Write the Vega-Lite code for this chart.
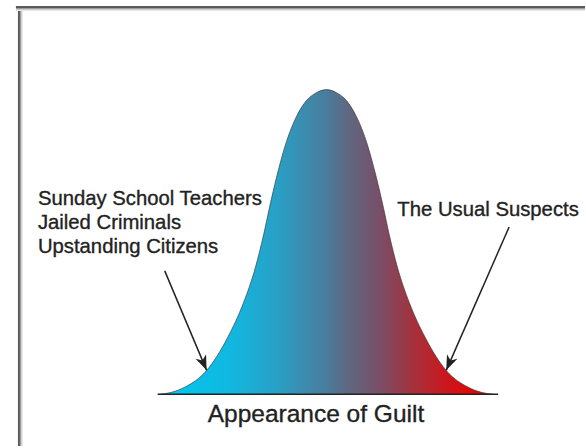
{
  "$schema": "https://vega.github.io/schema/vega-lite/v6.json",
  "width": 586,
  "height": 448,
  "autosize": {"type": "fit", "contains": "padding"},
  "padding": 0,
  "background": "white",
  "config": {"view": {"stroke": null}},
  "datasets": {
    "curve": [
      {"u": -3.036, "v": 0},
      {"u": -2.818, "v": 0.0065},
      {"u": -2.582, "v": 0.023},
      {"u": -2.182, "v": 0.078},
      {"u": -1.8, "v": 0.186},
      {"u": -1.509, "v": 0.301},
      {"u": -1.291, "v": 0.418},
      {"u": -1.145, "v": 0.523},
      {"u": -1.036, "v": 0.614},
      {"u": -0.909, "v": 0.712},
      {"u": -0.727, "v": 0.83},
      {"u": -0.545, "v": 0.912},
      {"u": -0.364, "v": 0.964},
      {"u": -0.182, "v": 0.99},
      {"u": 0, "v": 1},
      {"u": 0.182, "v": 0.99},
      {"u": 0.364, "v": 0.964},
      {"u": 0.545, "v": 0.912},
      {"u": 0.727, "v": 0.83},
      {"u": 0.909, "v": 0.712},
      {"u": 1.036, "v": 0.614},
      {"u": 1.145, "v": 0.523},
      {"u": 1.291, "v": 0.418},
      {"u": 1.509, "v": 0.301},
      {"u": 1.8, "v": 0.186},
      {"u": 2.182, "v": 0.078},
      {"u": 2.582, "v": 0.023},
      {"u": 2.818, "v": 0.0065},
      {"u": 3.036, "v": 0}
    ],
    "arrows": [
      {"u": -2.945, "v": 0.405, "u2": -2.182, "v2": 0.0784, "angle": 157.2},
      {"u": 3.327, "v": 0.549, "u2": 2.182, "v2": 0.0784, "angle": 203.5}
    ],
    "labels": [
      {"text": "Sunday School Teachers", "u": -5.255, "v": 0.621},
      {"text": "Jailed Criminals", "u": -5.255, "v": 0.542},
      {"text": "Upstanding Citizens", "u": -5.255, "v": 0.464},
      {"text": "The Usual Suspects", "u": 1.291, "v": 0.585}
    ],
    "title": [{"text": "Appearance of Guilt", "u": -0.191, "v": -0.0915}],
    "baseline": [{"u": -3.073, "u2": 3.127, "v": 0}],
    "frameLeft": [{"u": -5.6, "v": 1.2745, "v2": -0.17}],
    "frameTop": [{"u": -5.655, "u2": 4.709, "v": 1.2712}]
  },
  "encoding": {
    "x": {"field": "u", "type": "quantitative", "scale": {"domain": [-5.945, 4.709], "nice": false, "zero": false}, "axis": null},
    "y": {"field": "v", "type": "quantitative", "scale": {"domain": [-0.1699, 1.2941], "nice": false, "zero": false}, "axis": null}
  },
  "layer": [
    {
      "data": {"name": "frameLeft"},
      "mark": {"type": "rule", "color": "#e8e8e8", "strokeWidth": 1, "xOffset": 3.5},
      "encoding": {"y2": {"field": "v2"}}
    },
    {
      "data": {"name": "frameLeft"},
      "mark": {"type": "rule", "color": "#cccccc", "strokeWidth": 1, "xOffset": 2.5},
      "encoding": {"y2": {"field": "v2"}}
    },
    {
      "data": {"name": "frameLeft"},
      "mark": {"type": "rule", "color": "#9a9a9a", "strokeWidth": 1, "xOffset": 1.5},
      "encoding": {"y2": {"field": "v2"}}
    },
    {
      "data": {"name": "frameLeft"},
      "mark": {"type": "rule", "color": "#5a5a5a", "strokeWidth": 2},
      "encoding": {"y2": {"field": "v2"}}
    },
    {
      "data": {"name": "frameTop"},
      "mark": {"type": "rule", "color": "#e8e8e8", "strokeWidth": 1, "yOffset": 3.5},
      "encoding": {"x2": {"field": "u2"}}
    },
    {
      "data": {"name": "frameTop"},
      "mark": {"type": "rule", "color": "#cccccc", "strokeWidth": 1, "yOffset": 2.5},
      "encoding": {"x2": {"field": "u2"}}
    },
    {
      "data": {"name": "frameTop"},
      "mark": {"type": "rule", "color": "#9a9a9a", "strokeWidth": 1, "yOffset": 1.5},
      "encoding": {"x2": {"field": "u2"}}
    },
    {
      "data": {"name": "frameTop"},
      "mark": {"type": "rule", "color": "#5a5a5a", "strokeWidth": 2},
      "encoding": {"x2": {"field": "u2"}}
    },
    {
      "data": {"name": "curve"},
      "mark": {
        "type": "area",
        "interpolate": "monotone",
        "color": {
          "gradient": "linear",
          "x1": 0, "x2": 1, "y1": 0, "y2": 0,
          "stops": [
            {"offset": 0, "color": "#00c8f0"},
            {"offset": 0.21, "color": "#10b8e0"},
            {"offset": 0.36, "color": "#2a9ec4"},
            {"offset": 0.5, "color": "#4a7c9c"},
            {"offset": 0.57, "color": "#60667f"},
            {"offset": 0.66, "color": "#7a4e68"},
            {"offset": 0.75, "color": "#a0343f"},
            {"offset": 0.84, "color": "#c41c24"},
            {"offset": 0.93, "color": "#e00808"},
            {"offset": 1, "color": "#e80000"}
          ]
        }
      },
      "encoding": {}
    },
    {
      "data": {"name": "curve"},
      "mark": {"type": "line", "interpolate": "monotone", "color": "#333333", "strokeWidth": 0.8, "opacity": 0.8},
      "encoding": {}
    },
    {
      "data": {"name": "baseline"},
      "mark": {"type": "rule", "color": "#222222", "strokeWidth": 1.5},
      "encoding": {"x2": {"field": "u2"}}
    },
    {
      "data": {"name": "arrows"},
      "mark": {"type": "rule", "color": "#222222", "strokeWidth": 1.5},
      "encoding": {"x2": {"field": "u2"}, "y2": {"field": "v2"}}
    },
    {
      "data": {"name": "arrows"},
      "mark": {
        "type": "point",
        "shape": "M0,0L-0.38,1L0,0.72L0.38,1Z",
        "size": 900,
        "filled": true,
        "color": "#222222",
        "opacity": 1
      },
      "encoding": {
        "x": {"field": "u2", "type": "quantitative"},
        "y": {"field": "v2", "type": "quantitative"},
        "angle": {"field": "angle", "type": "quantitative", "scale": null}
      }
    },
    {
      "data": {"name": "labels"},
      "mark": {"type": "text", "align": "left", "baseline": "alphabetic", "font": "Liberation Sans", "fontSize": 20.3, "color": "#222222", "stroke": "#222222", "strokeWidth": 0.35},
      "encoding": {"text": {"field": "text"}}
    },
    {
      "data": {"name": "title"},
      "mark": {"type": "text", "align": "center", "baseline": "alphabetic", "font": "Liberation Sans", "fontSize": 24.5, "color": "#222222", "stroke": "#222222", "strokeWidth": 0.35},
      "encoding": {"text": {"field": "text"}}
    }
  ]
}
